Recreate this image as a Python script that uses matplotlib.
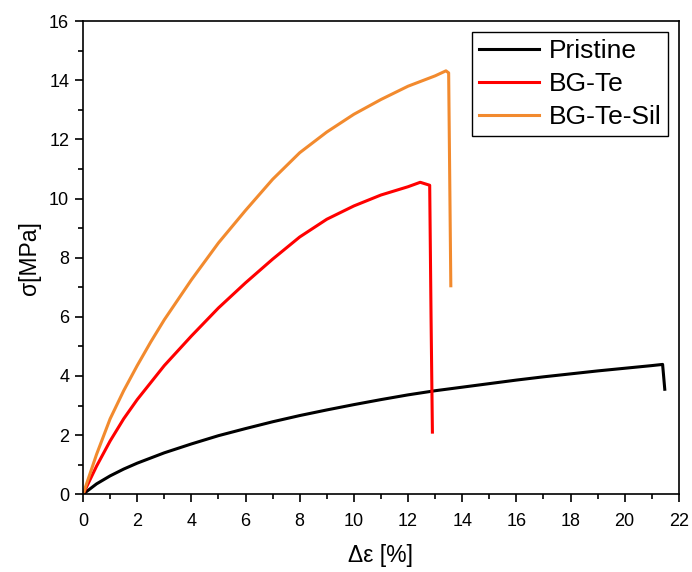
import numpy as np
import matplotlib as mpl
from matplotlib import pyplot as plt

# strain [%] and stress [MPa]
pristine_x = [0, 0.5, 1, 1.5, 2, 3, 4, 5, 6, 7, 8, 9, 10, 11, 12, 13, 14, 15,
              16, 17, 18, 19, 20, 21, 21.4, 21.48]
pristine_y = [0, 0.35, 0.62, 0.85, 1.05, 1.4, 1.7, 1.98, 2.22, 2.45, 2.66, 2.85,
              3.03, 3.2, 3.36, 3.5, 3.62, 3.74, 3.86, 3.97, 4.07, 4.17, 4.26,
              4.35, 4.39, 3.55]

bgte_x = [0, 0.5, 1, 1.5, 2, 3, 4, 5, 6, 7, 8, 9, 10, 11, 12, 12.45, 12.8,
          12.85, 12.9]
bgte_y = [0, 0.95, 1.8, 2.55, 3.2, 4.35, 5.35, 6.3, 7.15, 7.95, 8.7, 9.3, 9.75,
          10.12, 10.4, 10.55, 10.45, 6.0, 2.1]

sil_x = [0, 0.5, 1, 1.5, 2, 2.5, 3, 4, 5, 6, 7, 8, 9, 10, 11, 12, 13, 13.4,
         13.5, 13.58]
sil_y = [0, 1.35, 2.55, 3.5, 4.35, 5.15, 5.9, 7.25, 8.5, 9.6, 10.65, 11.55,
         12.25, 12.85, 13.35, 13.8, 14.15, 14.32, 14.25, 7.05]

series = [(pristine_x, pristine_y, 'Pristine', '#000000'),
          (bgte_x, bgte_y, 'BG-Te', '#ff0000'),
          (sil_x, sil_y, 'BG-Te-Sil', '#f28a2e')]

plt.rcParams['font.family'] = ['Liberation Sans', 'DejaVu Sans']

fig, ax = plt.subplots(figsize=(6.92, 5.72), dpi=100)
plt.subplots_adjust(left=0.12, right=0.981, top=0.963, bottom=0.136)

for x, y, label, color in series:
    ax.plot(x, y, color=color, lw=2.2, label=label)

ax.set_xlim(0, 22)
ax.set_ylim(0, 16)
ax.set_xticks(np.arange(0, 23, 2))
ax.set_yticks(np.arange(0, 17, 2))
ax.xaxis.set_minor_locator(mpl.ticker.MultipleLocator(1))
ax.yaxis.set_minor_locator(mpl.ticker.MultipleLocator(1))
ax.tick_params(which='both', direction='out', width=1.2, labelsize=13,
               top=False, right=False)
ax.tick_params(which='major', length=6)
ax.tick_params(which='minor', length=3.5)
ax.tick_params(axis='x', which='major', pad=7.5)
ax.tick_params(axis='y', which='major', pad=4)
for s in ax.spines.values():
    s.set_linewidth(1.2)

ax.set_xlabel('Δε [%]', fontsize=16.5, labelpad=10)
ax.set_ylabel('σ[MPa]', fontsize=16.5, labelpad=6)

leg = ax.legend(loc='upper right', fontsize=19, frameon=True, fancybox=False,
                edgecolor='black', framealpha=1, handlelength=2.3,
                labelspacing=0.35, borderpad=0.25, handletextpad=0.35,
                borderaxespad=0, bbox_to_anchor=(0.9815, 0.9767))
leg.get_frame().set_linewidth(1.0)

fig.savefig('out.png', dpi=100)
